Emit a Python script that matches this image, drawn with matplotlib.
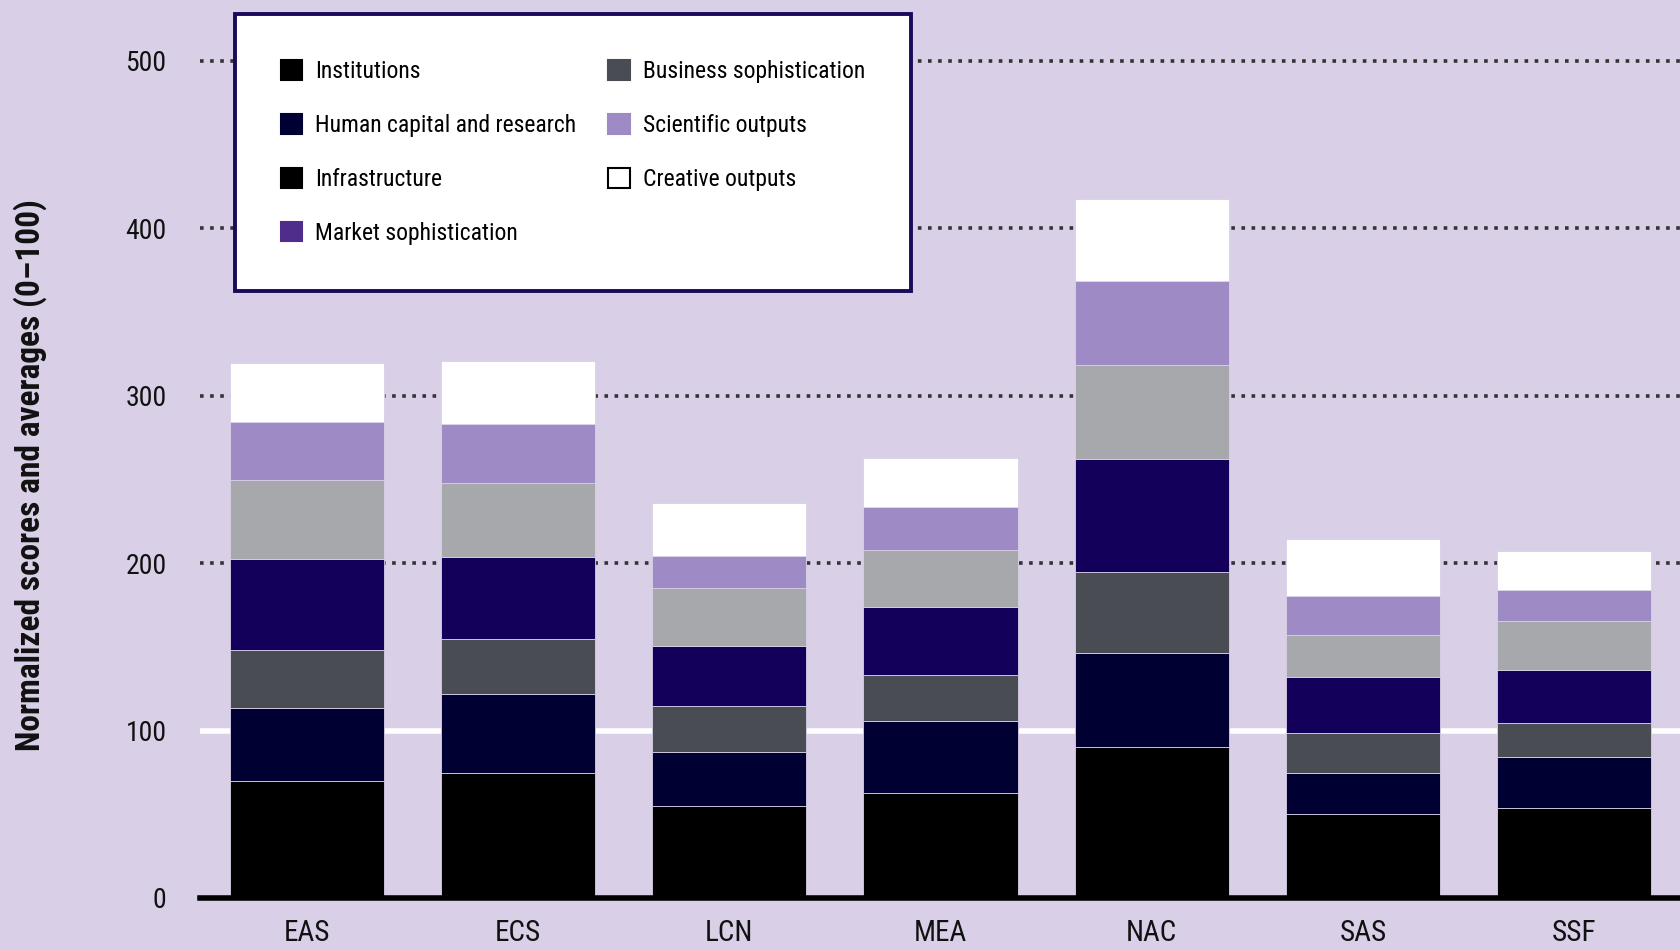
import matplotlib
matplotlib.use("Agg")
import matplotlib.pyplot as plt
from matplotlib.patches import Patch
from matplotlib import font_manager
import numpy as np

categories = ["EAS", "ECS", "LCN", "MEA", "NAC", "SAS", "SSF"]
series_names = ["Institutions", "Human capital and research", "Infrastructure",
                "Market sophistication", "Business sophistication",
                "Scientific outputs", "Creative outputs"]
institutions = [69.8, 74.9, 55.1, 62.7, 90.4, 49.9, 53.8]
human_capital = [43.5, 46.7, 32.0, 42.9, 55.8, 24.6, 30.3]
infrastructure = [34.6, 33.3, 27.5, 27.6, 48.6, 23.9, 20.5]
market_soph = [54.4, 48.7, 35.8, 40.9, 67.6, 33.5, 31.8]
business_soph = [47.4, 44.2, 34.6, 34.0, 55.8, 25.3, 29.2]
scientific = [34.6, 35.2, 19.2, 25.6, 50.1, 23.2, 18.2]
creative = [35.2, 37.7, 32.0, 29.4, 49.0, 34.2, 23.5]
yticks = [0, 100, 200, 300, 400, 500]

series = [institutions, human_capital, infrastructure, market_soph,
          business_soph, scientific, creative]
bar_colors = ["#000000", "#000033", "#4a4c54", "#12005a", "#a7a8ab", "#9e8ac4", "#ffffff"]
legend_colors = ["#000000", "#000033", "#000000", "#4f2d8a", "#4a4c54", "#9e8ac4", "#ffffff"]

bg = "#d9d0e8"
names = {f.name for f in font_manager.fontManager.ttflist}
cond = [n for n in ["Roboto Condensed", "DejaVu Sans Condensed", "Liberation Sans Narrow",
                    "Open Sans Condensed"] if n in names]
font = cond[:1] + ["DejaVu Sans"]

W, H = 1681, 950
fig = plt.figure(figsize=(W / 100, H / 100), dpi=100, facecolor=bg)
ymax = 530
left_px, zero_px, top500_px = 200, 898, 61
ppu = (zero_px - top500_px) / 500
top_px = zero_px - ymax * ppu
ax = fig.add_axes([left_px / W, (H - zero_px) / H, 1 - left_px / W, (zero_px - top_px) / H])
ax.set_facecolor(bg)

x = np.arange(len(categories))
bottom = np.zeros(len(categories))
for vals, col in zip(series, bar_colors):
    ax.bar(x, vals, width=0.73, bottom=bottom, color=col, edgecolor="#d9d0e8",
           linewidth=0.6, zorder=3)
    bottom += np.array(vals)

for yv in yticks[2:]:
    ax.axhline(yv, color="#333333", linestyle=(0, (1, 1.8)), linewidth=2.6, zorder=1)
ax.axhline(100, color="white", linewidth=4, zorder=1)

ax.set_xlim(-0.505, 6.505)
ax.set_ylim(0, ymax)
ax.set_yticks(yticks)
ax.set_yticklabels([str(v) for v in yticks], fontsize=20, family=font, color="#111111")
ax.set_xticks(x)
ax.set_xticklabels(categories, fontsize=21, family=font, color="#111111")
ax.tick_params(axis="y", length=0, pad=24)
ax.tick_params(axis="x", length=0, pad=15)
for s in ["left", "right", "top"]:
    ax.spines[s].set_visible(False)
ax.spines["bottom"].set_linewidth(4)
ax.spines["bottom"].set_color("black")
ax.spines["bottom"].set_zorder(4)

fig.text(30 / W, (H - 475) / H, "Normalized scores and averages (0–100)", rotation=90,
         fontsize=24, fontweight="bold", family=font, ha="center", va="center", color="#111111")

handles = []
for name, col in zip(series_names, legend_colors):
    ec = "black" if col == "#ffffff" else col
    handles.append(Patch(facecolor=col, edgecolor=ec, linewidth=1.5, label=name))
box_l, box_t, box_w = 235, 14, 676
leg = fig.legend(handles=handles, loc="upper left",
                 bbox_to_anchor=(box_l / W, 1 - box_t / H - 0.2, box_w / W, 0.2),
                 mode="expand", ncol=2, frameon=True, fancybox=False,
                 prop={"family": font, "size": 17},
                 handlelength=0.9, handleheight=0.9, handletextpad=0.55, labelspacing=1.31,
                 columnspacing=0.8, borderpad=1.95, borderaxespad=0)
frame = leg.get_frame()
frame.set_edgecolor("#1a0a5a")
frame.set_linewidth(2.8)
frame.set_facecolor("white")
frame.set_alpha(1)

fig.savefig("out.png", dpi=100, facecolor=bg)
